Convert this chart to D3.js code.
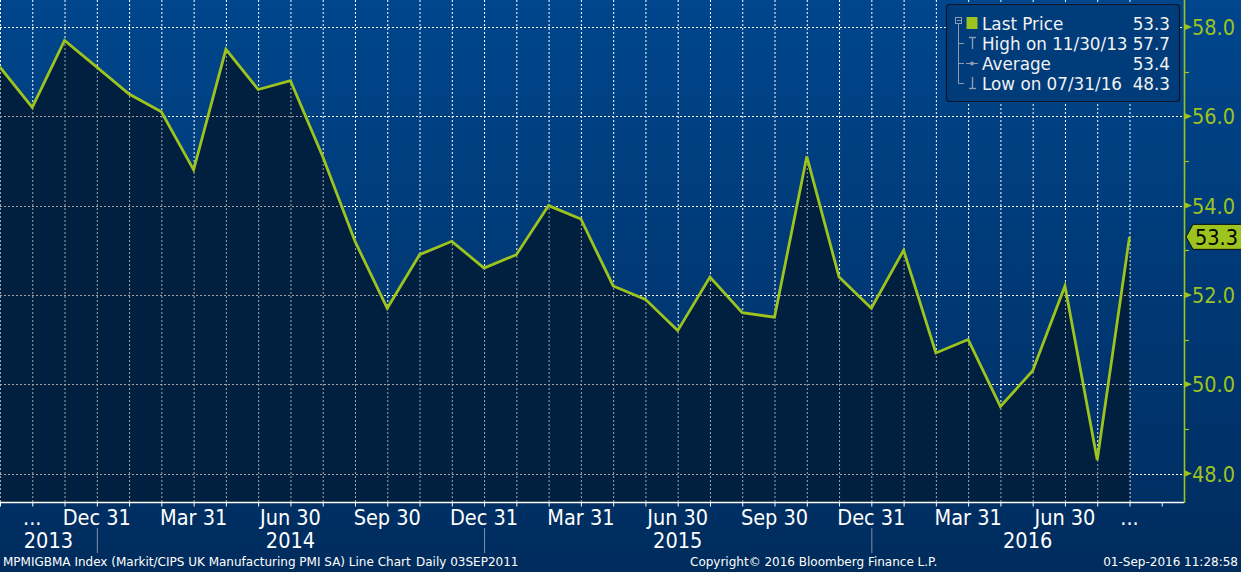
<!DOCTYPE html>
<html>
<head>
<meta charset="utf-8">
<script src="https://cdn.jsdelivr.net/npm/d3@7/dist/d3.min.js"></script>
<style>
  html, body { margin: 0; padding: 0; background: #002c5c; }
  svg { display: block; }
</style>
</head>
<body>
<svg id="chart" width="1241" height="572"></svg>
<script>
// ---------- DATA ----------
const months = ["Sep 2013","Oct 2013","Nov 2013","Dec 2013","Jan 2014","Feb 2014","Mar 2014","Apr 2014",
  "May 2014","Jun 2014","Jul 2014","Aug 2014","Sep 2014","Oct 2014","Nov 2014","Dec 2014","Jan 2015",
  "Feb 2015","Mar 2015","Apr 2015","May 2015","Jun 2015","Jul 2015","Aug 2015","Sep 2015","Oct 2015",
  "Nov 2015","Dec 2015","Jan 2016","Feb 2016","Mar 2016","Apr 2016","May 2016","Jun 2016","Jul 2016","Aug 2016"];
const values = [57.1,56.2,57.7,57.1,56.5,56.1,54.8,57.5,56.6,56.8,55.1,53.2,51.7,52.9,53.2,52.6,52.9,
  54.0,53.7,52.2,51.9,51.2,52.4,51.6,51.5,55.1,52.4,51.7,53.0,50.7,51.0,49.5,50.3,52.2,48.3,53.3];
const tickIndex = [1,3,6,9,12,15,18,21,24,27,30,33,35];
const tickLabels = ["...","Dec 31","Mar 31","Jun 30","Sep 30","Dec 31","Mar 31","Jun 30","Sep 30","Dec 31","Mar 31","Jun 30","..."];
const years = ["2013","2014","2015","2016"];
const yearBreakIndex = [3,15,27];
const yTicks = [48,50,52,54,56,58];
const yMinorTicks = [49,51,53,55,57];
const legendLabels = ["Last Price","High on 11/30/13","Average","Low on 07/31/16"];
const legendValues = ["53.3","57.7","53.4","48.3"];
const lastValueLabel = "53.3";
const footerLeft = "MPMIGBMA Index (Markit/CIPS UK Manufacturing PMI SA) Line Chart";
const footerLeft2 = "Daily 03SEP2011";
const footerMid = "Copyright\u00A9 2016 Bloomberg Finance L.P.";
const footerRight = "01-Sep-2016 11:28:58";

// ---------- LAYOUT ----------
const W = 1241, H = 572;
const plotR = 1184, plotB = 502;
const svg = d3.select("#chart");
const x = d3.scaleLinear().domain([0, months.length - 1]).range([0, 1129.5]);
const y = d3.scaleLinear().domain([48, 58]).range([473.5, 27]);
const green = "#9cc31e";
const axisFont = "'DejaVu Sans Condensed', 'DejaVu Sans', sans-serif";
const legFont = "'DejaVu Sans', sans-serif";

const defs = svg.append("defs");
const grad = defs.append("linearGradient").attr("id","bg").attr("x1",0).attr("y1",0).attr("x2",0).attr("y2",1);
grad.append("stop").attr("offset","0").attr("stop-color","#00468c");
grad.append("stop").attr("offset","0.88").attr("stop-color","#002f64");
grad.append("stop").attr("offset","1").attr("stop-color","#002c5c");

svg.append("rect").attr("width",W).attr("height",H).attr("fill","url(#bg)");

const data = values.map((v,i) => ({i, v}));
const area = d3.area().x(d => x(d.i)).y0(plotB).y1(d => y(d.v));
const line = d3.line().x(d => x(d.i)).y(d => y(d.v));

defs.append("clipPath").attr("id","areaClip").append("path").attr("d", area(data));
defs.append("clipPath").attr("id","plotClip").append("rect").attr("x",0).attr("y",0).attr("width",plotR).attr("height",plotB);

function drawGrid(g, color) {
  g.selectAll("line.v").data(d3.range(0, months.length)).join("line")
    .attr("x1", d => x(d) + 0.5).attr("x2", d => x(d) + 0.5)
    .attr("y1", 0).attr("y2", plotB)
    .attr("stroke", color).attr("stroke-width", 1).attr("stroke-dasharray","2,2");
  g.selectAll("line.h").data(yTicks).join("line")
    .attr("x1", 0).attr("x2", plotR)
    .attr("y1", d => Math.round(y(d)) + 0.5).attr("y2", d => Math.round(y(d)) + 0.5)
    .attr("stroke", color).attr("stroke-width", 1).attr("stroke-dasharray","2,2");
}
const gridWhite = svg.append("g").attr("clip-path","url(#plotClip)");
drawGrid(gridWhite.append("g"), "#ffffff");
svg.append("path").attr("d", area(data)).attr("fill","#01203f");
const gridGrey = svg.append("g").attr("clip-path","url(#areaClip)");
drawGrid(gridGrey.append("g"), "#a3a6aa");

svg.append("path").attr("d", line(data)).attr("fill","none")
  .attr("stroke", green).attr("stroke-width", 2.8).attr("stroke-linejoin","miter");

// bottom axis
svg.append("line").attr("x1",0).attr("x2",plotR).attr("y1",plotB+0.5).attr("y2",plotB+0.5)
  .attr("stroke","#ffffff").attr("stroke-width",1.6);
svg.selectAll("line.xt").data(d3.range(0, months.length + 1)).join("line")
  .attr("x1", d => x(d) + 0.5).attr("x2", d => x(d) + 0.5)
  .attr("y1", plotB).attr("y2", plotB + 4.5).attr("stroke","#ffffff").attr("stroke-width",1);
svg.selectAll("text.xl").data(tickIndex).join("text")
  .attr("x", d => x(d)).attr("y", 525).attr("text-anchor","middle")
  .attr("font-family", axisFont).attr("font-size", 21.5).attr("fill","#ffffff")
  .text((d,i) => tickLabels[i]);
// years
const bounds = [0, ...yearBreakIndex.map(i => x(i)), plotR];
svg.selectAll("text.yr").data(years).join("text")
  .attr("x", (d,i) => (bounds[i] + bounds[i+1]) / 2).attr("y", 548).attr("text-anchor","middle")
  .attr("font-family", axisFont).attr("font-size", 21.5).attr("fill","#ffffff")
  .text(d => d);
svg.selectAll("line.ysep").data(yearBreakIndex).join("line")
  .attr("x1", d => x(d) + 0.5).attr("x2", d => x(d) + 0.5)
  .attr("y1", 528).attr("y2", 553).attr("stroke","#8393aa").attr("stroke-width",1);

// right axis
svg.append("line").attr("x1",plotR+0.5).attr("x2",plotR+0.5).attr("y1",0).attr("y2",plotB+1)
  .attr("stroke",green).attr("stroke-width",1.6);
svg.selectAll("path.ytri").data(yTicks).join("path")
  .attr("d", d => { const yy = y(d); return `M${plotR},${yy-3.5}L${plotR+8},${yy}L${plotR},${yy+3.5}Z`; })
  .attr("fill", green);
svg.selectAll("line.ymin").data(yMinorTicks).join("line")
  .attr("x1", plotR).attr("x2", plotR + 5)
  .attr("y1", d => Math.round(y(d)) + 0.5).attr("y2", d => Math.round(y(d)) + 0.5)
  .attr("stroke", green).attr("stroke-width",1.2);
svg.selectAll("text.yl").data(yTicks).join("text")
  .attr("x", plotR + 8).attr("y", d => y(d) + 8).attr("text-anchor","start")
  .attr("font-family", axisFont).attr("font-size", 21.5).attr("fill", green)
  .text(d => d.toFixed(1));

// last value flag
const lastY = y(values[values.length - 1]);
svg.append("path")
  .attr("d", `M${plotR+2},${lastY}L${plotR+9},${lastY-12.5}L${W+2},${lastY-12.5}L${W+2},${lastY+12.5}L${plotR+9},${lastY+12.5}Z`)
  .attr("fill", green).attr("stroke","#0a0a0a").attr("stroke-width",1);
svg.append("text").attr("x", plotR + 11).attr("y", lastY + 8)
  .attr("font-family", axisFont).attr("font-size", 21.5).attr("fill","#000000")
  .text(lastValueLabel);

// legend
const lg = svg.append("g");
lg.append("rect").attr("x",946.5).attr("y",4.5).attr("width",233).attr("height",97).attr("rx",3)
  .attr("fill","#003b7a").attr("stroke","#0d1320").attr("stroke-width",1.2);
const treeC = "#8e9bb0";
lg.append("rect").attr("x",955.5).attr("y",17.5).attr("width",6).attr("height",6).attr("fill","none").attr("stroke",treeC);
lg.append("line").attr("x1",957).attr("x2",961).attr("y1",20.5).attr("y2",20.5).attr("stroke",treeC);
lg.append("line").attr("x1",958.5).attr("x2",958.5).attr("y1",24).attr("y2",83.5).attr("stroke",treeC);
[43,63,83].forEach(yy => lg.append("line").attr("x1",958.5).attr("x2",964).attr("y1",yy+0.5).attr("y2",yy+0.5).attr("stroke",treeC));
lg.append("rect").attr("x",966.5).attr("y",17).attr("width",11).attr("height",12).attr("fill",green);
// high glyph
lg.append("line").attr("x1",969).attr("x2",976).attr("y1",37.5).attr("y2",37.5).attr("stroke",treeC).attr("stroke-width",1.4);
lg.append("line").attr("x1",972.5).attr("x2",972.5).attr("y1",37).attr("y2",49).attr("stroke",treeC).attr("stroke-width",1.4);
// average glyph
lg.append("line").attr("x1",966).attr("x2",978).attr("y1",63.5).attr("y2",63.5).attr("stroke",treeC).attr("stroke-width",1);
lg.append("circle").attr("cx",972).attr("cy",63.5).attr("r",2).attr("fill",treeC);
// low glyph
lg.append("line").attr("x1",972.5).attr("x2",972.5).attr("y1",77).attr("y2",89).attr("stroke",treeC).attr("stroke-width",1.4);
lg.append("line").attr("x1",969).attr("x2",976).attr("y1",88.5).attr("y2",88.5).attr("stroke",treeC).attr("stroke-width",1.4);
lg.selectAll("text.ll").data(legendLabels).join("text")
  .attr("x", 982).attr("y", (d,i) => 29.5 + i*20)
  .attr("font-family", legFont).attr("font-size", 16.8).attr("fill","#f2f2f2").text(d => d);
lg.selectAll("text.lv").data(legendValues).join("text")
  .attr("x", 1170).attr("y", (d,i) => 29.5 + i*20).attr("text-anchor","end")
  .attr("font-family", legFont).attr("font-size", 16.8).attr("fill","#f2f2f2").text(d => d);

// footer
const ff = svg.append("g").attr("font-family", legFont).attr("font-size", 12).attr("fill","#ffffff");
ff.append("text").attr("x",3).attr("y",566).text(footerLeft);
ff.append("text").attr("x",416).attr("y",566).text(footerLeft2);
ff.append("text").attr("x",690).attr("y",566).text(footerMid);
ff.append("text").attr("x",1238).attr("y",566).attr("text-anchor","end").text(footerRight);
</script>
</body>
</html>
